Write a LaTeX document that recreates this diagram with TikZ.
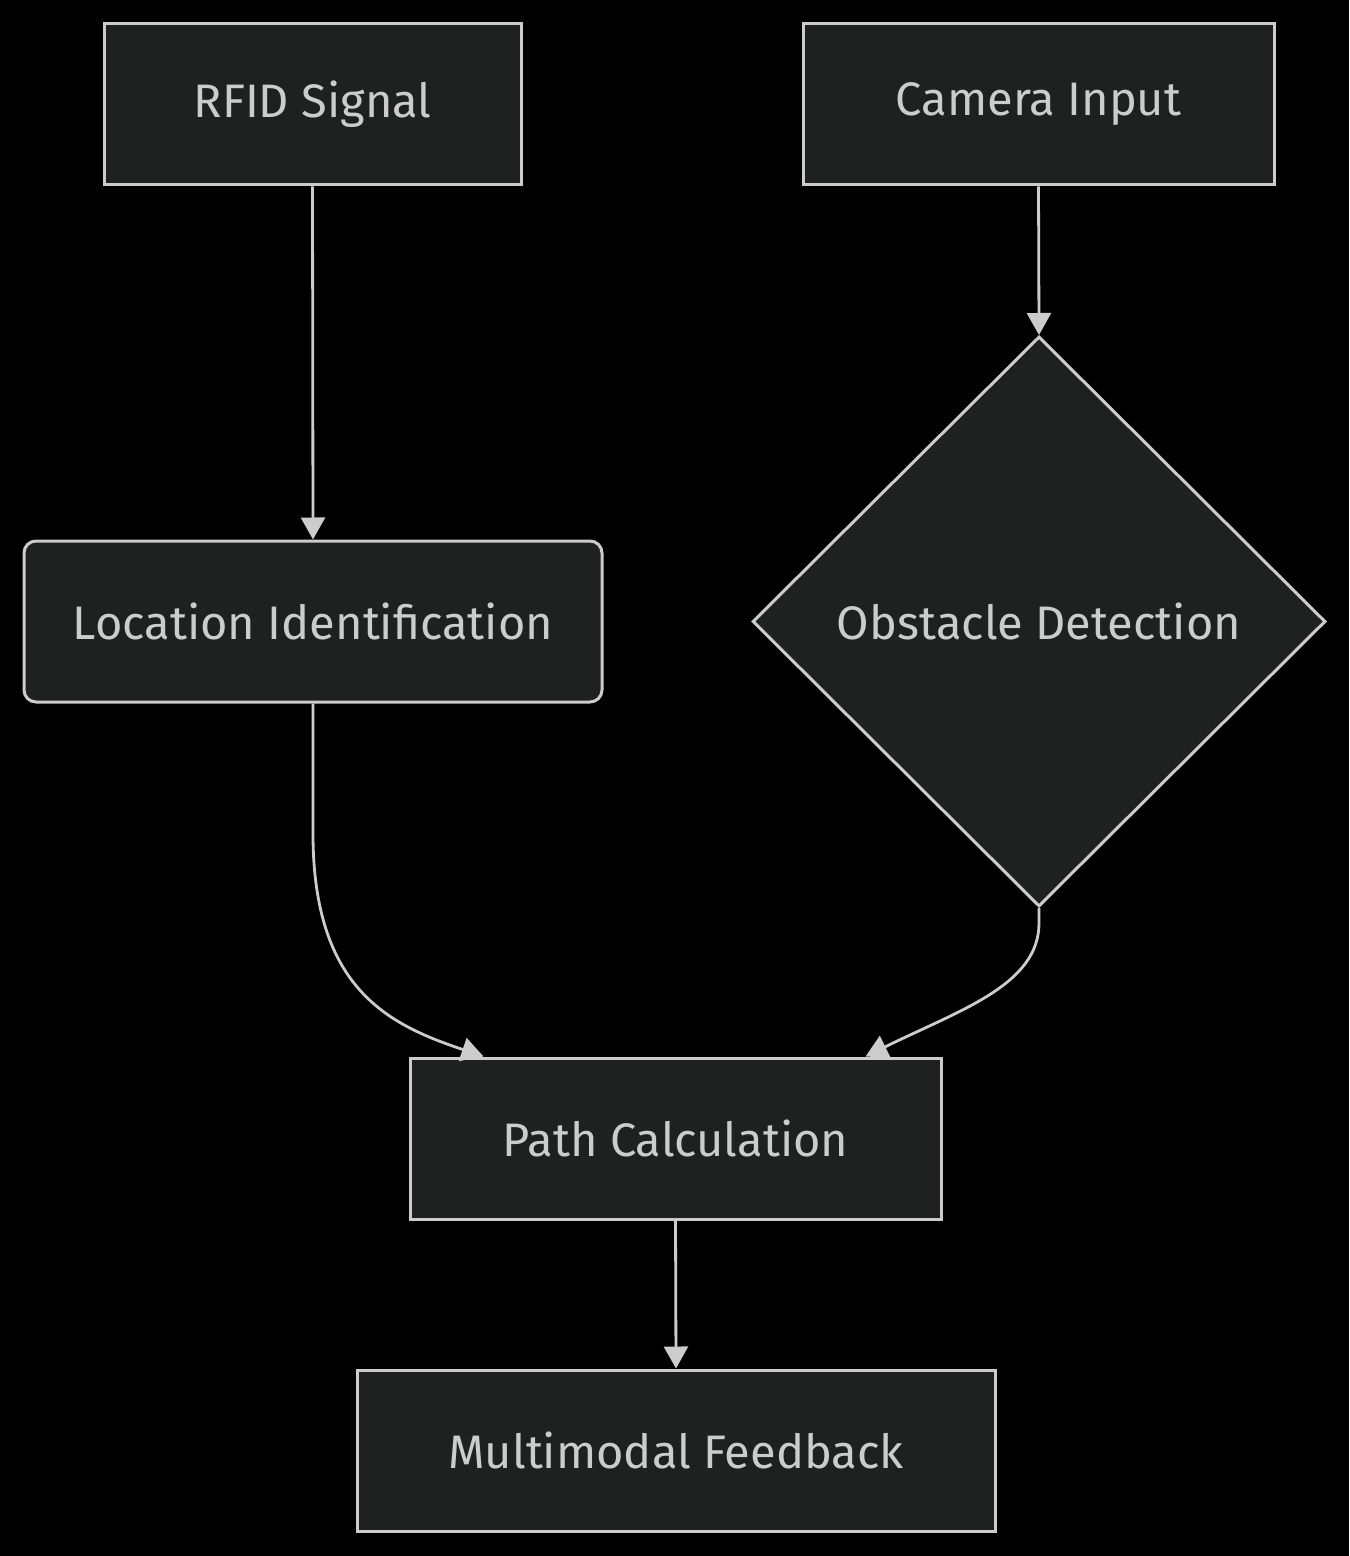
\documentclass[tikz,border=0pt]{standalone}
\usepackage{fontspec}
\setmainfont{Fira Sans}
\usetikzlibrary{shapes.geometric,arrows.meta}
\definecolor{bgc}{HTML}{000000}
\definecolor{nodefill}{HTML}{1F2020}
\definecolor{edgec}{HTML}{CCCCCC}
\definecolor{txtc}{HTML}{CCCCCC}
\tikzset{
  base/.style={draw=edgec, fill=nodefill, line width=1.5pt, text=txtc, font=\fontsize{23.5}{28}\selectfont, inner sep=0pt},
  boxnode/.style={base, rectangle, minimum height=80.5pt},
  roundnode/.style={base, rectangle, rounded corners=6pt, minimum height=80.5pt},
  decnode/.style={base, diamond, minimum width=286.5pt, minimum height=285pt},
  flow/.style={draw=edgec, line width=1.4pt, -{Triangle[length=11pt,width=12pt]}},
}
\begin{document}
\begin{tikzpicture}[x=0.5pt,y=-0.5pt]
\fill[bgc] (0,0) rectangle (1349,1556);
\useasboundingbox (0,0) rectangle (1349,1556);
\node[boxnode, minimum width=208.5pt] (rfid) at (312.5,104.5) {RFID Signal};
\node[boxnode, minimum width=235.5pt] (cam) at (1038.5,104.5) {Camera Input};
\node[roundnode, minimum width=289pt] (loc) at (313,621.5) {Location Identification};
\node[decnode] (obs) at (1039,621.5) {Obstacle Detection};
\node[boxnode, minimum width=265.5pt] (path) at (675.5,1138.5) {Path Calculation};
\node[boxnode, minimum width=319pt] (mm) at (676,1450.5) {Multimodal Feedback};
\draw[flow] (rfid.south) -- (loc.north);
\draw[flow] (cam.south) -- (obs.north);
\draw[flow] (loc.south) -- ++(0,130) .. controls (313,990) and (390,1025) .. ([xshift=-96pt]path.north);
\draw[flow] (obs.south) -- ++(0,15) .. controls (1039,985) and (960,1010) .. ([xshift=95pt]path.north);
\draw[flow] (path.south) -- (mm.north);
\end{tikzpicture}
\end{document}
